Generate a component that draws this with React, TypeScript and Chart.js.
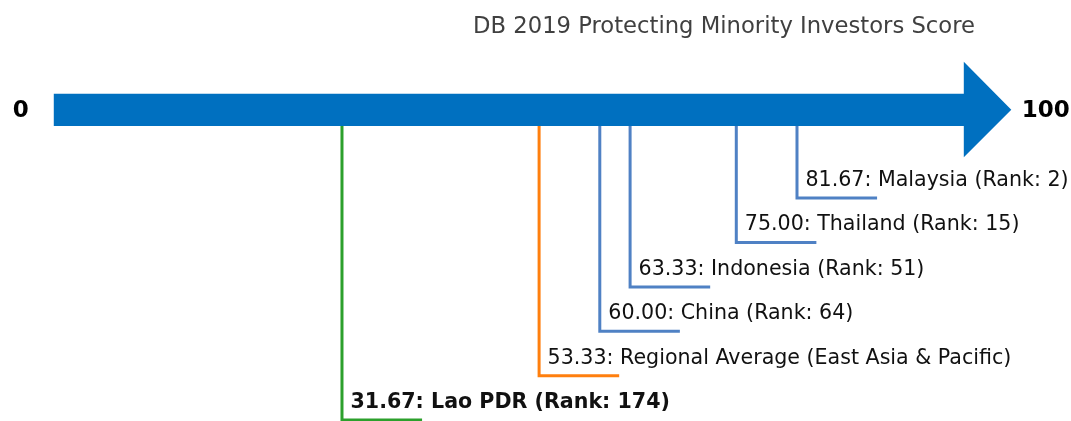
import React, { useEffect, useRef } from "react";
import { Chart, registerables } from "chart.js";

Chart.register(...registerables);

const countries = ["Malaysia", "Thailand", "Indonesia", "China", "Regional Average (East Asia & Pacific)", "Lao PDR"];
const scores = [81.67, 75.0, 63.33, 60.0, 53.33, 31.67];
const ranks: (number | null)[] = [2, 15, 51, 64, null, 174];
const dropLevels = [1, 2, 3, 4, 5, 6];
const lineColors = ["#4f81c4", "#4f81c4", "#4f81c4", "#4f81c4", "#ff7f0e", "#2ca02c"];
const boldLabel = [false, false, false, false, false, true];
const axisStart = 0;
const axisEnd = 100;
const arrowLevel = -1;
const stubLength = 8.8;
const titleText = "DB 2019 Protecting Minority Investors Score";

const FONT = "'DejaVu Sans', sans-serif";

const overlayPlugin = {
  id: "overlay",
  afterDatasetsDraw(chart: any) {
    const { ctx, scales } = chart;
    const xs = scales.x;
    const ys = scales.y;
    const x0 = xs.getPixelForValue(axisStart);
    const x1 = xs.getPixelForValue(axisEnd);
    const yc = ys.getPixelForValue(arrowLevel);
    ctx.save();
    // arrow
    ctx.fillStyle = "#0070c0";
    ctx.beginPath();
    ctx.moveTo(x0, yc - 15.5);
    ctx.lineTo(x1, yc - 15.5);
    ctx.lineTo(x1, yc - 47.5);
    ctx.lineTo(x1 + 47.5, yc + 0.5);
    ctx.lineTo(x1, yc + 48);
    ctx.lineTo(x1, yc + 16.8);
    ctx.lineTo(x0, yc + 16.8);
    ctx.closePath();
    ctx.fill();
    // end labels
    ctx.fillStyle = "#000";
    ctx.font = `bold 23px ${FONT}`;
    ctx.textBaseline = "middle";
    ctx.textAlign = "center";
    ctx.fillText(String(axisStart), x0 - 33, yc + 1.5);
    ctx.textAlign = "left";
    ctx.fillText(String(axisEnd), x1 + 58, yc + 1.5);
    // data labels
    countries.forEach((c, i) => {
      const px = xs.getPixelForValue(scores[i]);
      const py = ys.getPixelForValue(dropLevels[i]);
      const txt = `${scores[i].toFixed(2)}: ${c}` + (ranks[i] != null ? ` (Rank: ${ranks[i]})` : "");
      ctx.font = `${boldLabel[i] ? "bold " : ""}20.6px ${FONT}`;
      ctx.fillStyle = "#111";
      ctx.textAlign = "left";
      ctx.textBaseline = "middle";
      ctx.fillText(txt, px + 8.5, py - 17.5);
    });
    // title
    ctx.font = `22.7px ${FONT}`;
    ctx.fillStyle = "#404040";
    ctx.textAlign = "center";
    ctx.textBaseline = "middle";
    ctx.fillText(titleText, 724, 27.5);
    ctx.restore();
  },
};

export default function App() {
  const ref = useRef<HTMLCanvasElement>(null);
  useEffect(() => {
    document.body.style.margin = "0";
    const datasets = countries.map((c, i) => ({
      label: c,
      data: [
        { x: scores[i], y: arrowLevel },
        { x: scores[i], y: dropLevels[i] },
        { x: scores[i] + stubLength, y: dropLevels[i] },
      ],
      borderColor: lineColors[i],
      borderWidth: 3,
      pointRadius: 0,
      tension: 0,
      fill: false,
      clip: false as any,
      borderCapStyle: "butt" as const,
      borderJoinStyle: "miter" as const,
    }));
    const chart = new Chart(ref.current!, {
      type: "line",
      data: { datasets },
      options: {
        responsive: false,
        animation: false,
        layout: { padding: 0 },
        plugins: { legend: { display: false }, tooltip: { enabled: false }, title: { display: false } },
        scales: {
          x: { type: "linear", min: -5.91, max: 111.78, display: false },
          y: { type: "linear", reverse: true, min: -3.46, max: 6.02, display: false },
        },
      },
      plugins: [overlayPlugin],
    });
    return () => chart.destroy();
  }, []);
  return (
    <div style={{ position: "fixed", left: 0, top: 0, width: 1071, height: 421, background: "#fff" }}>
      <canvas ref={ref} width={1071} height={421} />
    </div>
  );
}
